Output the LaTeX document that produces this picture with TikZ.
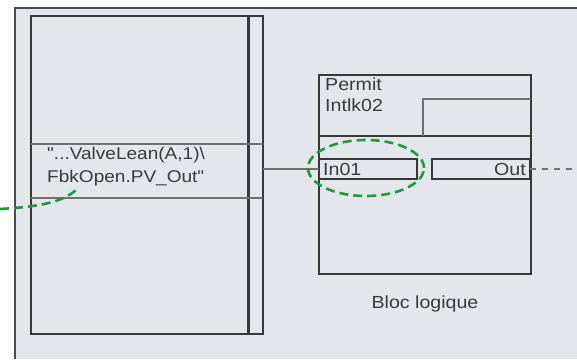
\documentclass[tikz,border=0pt]{standalone}
\usepackage{fontspec}
\setmainfont{Liberation Sans}
\newfontfamily\wideface[FakeStretch=1.12]{Liberation Sans}
\usetikzlibrary{shapes.geometric}
\definecolor{bg}{HTML}{E3E7EB}
\definecolor{ln}{HTML}{383838}
\definecolor{frm}{HTML}{4A4A4A}
\definecolor{txt}{HTML}{3A3A3A}
\definecolor{grn}{HTML}{1E9A3C}
\definecolor{gry}{HTML}{707070}
\begin{document}
\begin{tikzpicture}[x=1pt,y=-1pt,
  box/.style={draw=ln, line width=1.6pt, inner sep=0pt, outer sep=0pt, anchor=north west},
  lbl/.style={text=txt, font=\wideface\fontsize{17}{23}\selectfont, inner sep=0pt},
  blbl/.style={text=txt, font=\wideface\fontsize{17.5}{21}\selectfont, inner sep=0pt},
  gdash/.style={draw=grn, line width=2.6pt, dash pattern=on 9pt off 5pt},
  thinl/.style={draw=gry, line width=1.2pt}]
\useasboundingbox (0,0) rectangle (577,359);
\fill[bg] (15,8) rectangle (577,359);
\draw[frm, line width=1.8pt] (15,359) -- (15,8) -- (577,8);
% left panel
\node[box, minimum width=232, minimum height=318] (panel) at (31,16) {};
\draw[ln, line width=3pt] ([xshift=-15pt]panel.north east) -- ([xshift=-15pt]panel.south east);
\draw[thinl] (panel.west |- 0,144) -- (panel.east |- 0,144);
\draw[thinl] (panel.west |- 0,198) -- (panel.east |- 0,198);
\node[lbl, anchor=west, align=left] (sig) at (47,167) {"...ValveLean(A,1)\textbackslash\\FbkOpen.PV\_Out"};
% logic block
\node[box, minimum width=212, minimum height=199] (blk) at (319,75) {};
\draw[ln, line width=1.8pt] (blk.west |- 0,136) -- (blk.east |- 0,136);
\coordinate (kink) at (423,136);
\draw[thinl] (kink) -- (423,99) -- (blk.east |- 0,99);
\node[blbl, anchor=north west, align=left] (perm) at (325,78) {Permit\\Intlk02};
\node[box, minimum width=98, minimum height=20] (in) at (319,159) {};
\node[blbl, anchor=west] (intxt) at ([xshift=4pt]in.west) {In01};
\node[box, minimum width=98, minimum height=20] (out) at (432,159) {};
\node[blbl, anchor=east] (outtxt) at ([xshift=-4pt]out.east) {Out};
\draw[thinl] (panel.east |- in.west) -- (in.west);
\coordinate (rt) at (577,169);
\draw[gry, line width=1.2pt, dash pattern=on 6pt off 6pt] (out.east) -- (out.east -| rt);
\node[gdash, ellipse, minimum width=116, minimum height=56, inner sep=0pt] (hl) at (366,168) {};
\coordinate (gs) at (0,209);
\coordinate (ge) at (77,189);
\draw[gdash] (gs) .. controls (32,207) and (62,204) .. (ge);
\node[blbl] (bl) at (425,304) {Bloc logique};
\end{tikzpicture}
\end{document}
